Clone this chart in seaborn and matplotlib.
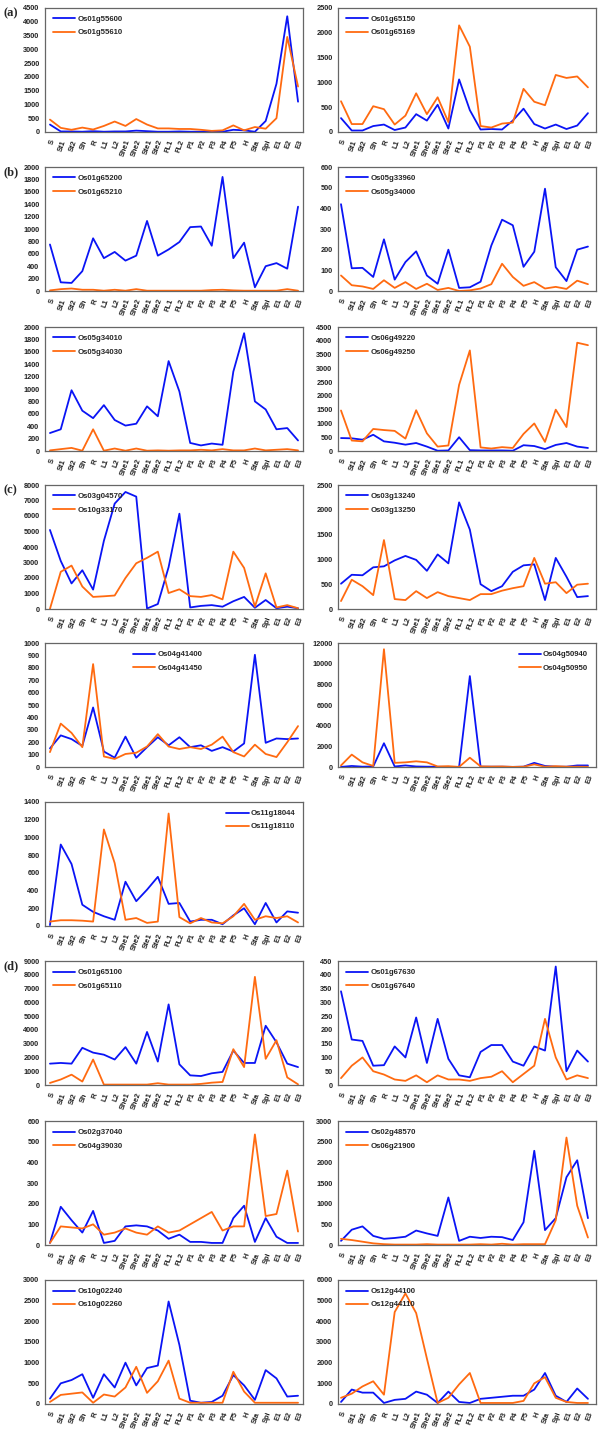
import matplotlib
matplotlib.use('Agg')
import matplotlib.pyplot as plt
import numpy as np
import pandas as pd
import seaborn as sns

tissues = ['S', 'St1', 'St2', 'Sh', 'R', 'L1', 'L2', 'She1', 'She2', 'Ste1', 'Ste2', 'FL1',
           'FL2', 'P1', 'P2', 'P3', 'P4', 'P5', 'H', 'Sta', 'Spi', 'E1', 'E2', 'E3']

# (a)
os01g55600 = [270, 20, 20, 10, 30, 10, 20, 20, 50, 30, 10, 10, 20, 10, 10, 10, 10, 80, 60, 10, 400, 1750, 4200, 1100]
os01g55610 = [450, 150, 80, 160, 90, 220, 380, 220, 470, 270, 130, 130, 110, 110, 80, 40, 60, 240, 60, 180, 120, 500, 3450, 1650]
os01g65150 = [280, 30, 30, 120, 150, 40, 90, 360, 230, 550, 70, 1060, 440, 50, 60, 50, 230, 470, 160, 70, 150, 60, 130, 380]
os01g65169 = [620, 160, 160, 520, 460, 150, 330, 780, 360, 700, 200, 2150, 1720, 120, 90, 170, 190, 870, 610, 540, 1150, 1090, 1120, 900]
# (b)
os01g65200 = [750, 140, 130, 320, 850, 530, 630, 490, 570, 1130, 570, 670, 790, 1030, 1040, 730, 1840, 530, 780, 60, 400, 450, 360, 1360]
os01g65210 = [10, 30, 40, 20, 20, 5, 20, 5, 30, 5, 5, 5, 5, 5, 5, 15, 20, 10, 5, 5, 5, 5, 30, 5]
os05g33960 = [420, 110, 112, 68, 250, 55, 140, 192, 75, 35, 200, 15, 18, 45, 220, 345, 318, 117, 190, 495, 115, 48, 200, 215]
os05g34000 = [75, 28, 22, 10, 52, 15, 43, 10, 35, 5, 15, 0, 3, 12, 33, 132, 68, 25, 43, 12, 20, 10, 50, 33]
os05g34010 = [290, 350, 980, 650, 530, 740, 500, 410, 440, 720, 560, 1450, 960, 130, 90, 120, 100, 1280, 1900, 800, 670, 350, 370, 170]
os05g34030 = [10, 30, 50, 5, 350, 5, 40, 5, 40, 5, 10, 5, 10, 10, 20, 10, 30, 10, 10, 40, 10, 20, 30, 10]
os06g49220 = [470, 460, 410, 590, 350, 300, 230, 290, 160, 10, 20, 500, 30, 20, 20, 20, 10, 210, 180, 70, 220, 290, 160, 110]
os06g49250 = [1470, 380, 350, 800, 760, 730, 450, 1480, 640, 160, 200, 2400, 3650, 130, 90, 140, 110, 620, 1000, 330, 1500, 870, 3930, 3840]
# (c)
os03g04570 = [5100, 3100, 1650, 2500, 1250, 4400, 6800, 7550, 7250, 30, 320, 2700, 6150, 100, 200, 250, 150, 500, 780, 80, 580, 50, 150, 50]
os10g33170 = [10, 2400, 2800, 1450, 780, 820, 870, 2000, 2950, 3300, 3700, 1030, 1270, 830, 780, 900, 620, 3700, 2650, 150, 2300, 100, 250, 50]
os03g13240 = [510, 690, 680, 840, 860, 980, 1070, 990, 770, 1100, 920, 2150, 1600, 500, 360, 460, 750, 880, 900, 180, 1030, 650, 240, 260]
os03g13250 = [160, 590, 460, 280, 1390, 200, 180, 360, 220, 340, 260, 220, 180, 300, 300, 370, 420, 460, 1030, 510, 540, 320, 490, 510]
os04g41400 = [150, 255, 225, 170, 480, 125, 75, 245, 75, 160, 240, 175, 240, 160, 175, 130, 160, 125, 190, 905, 195, 230, 225, 230]
os04g41450 = [120, 350, 275, 160, 830, 85, 65, 105, 115, 165, 265, 165, 145, 160, 145, 180, 245, 120, 85, 180, 105, 80, 200, 330]
os04g50940 = [10, 100, 30, 50, 2300, 50, 150, 50, 30, 20, 10, 10, 8800, 30, 30, 30, 10, 30, 400, 100, 30, 30, 150, 150]
os04g50950 = [150, 1200, 450, 100, 11400, 400, 450, 550, 450, 50, 80, 10, 900, 60, 40, 50, 10, 30, 250, 30, 80, 30, 30, 20]
os11g18044 = [10, 920, 700, 240, 160, 110, 70, 500, 280, 410, 555, 250, 260, 50, 70, 70, 20, 120, 200, 20, 260, 40, 165, 150]
os11g18110 = [50, 65, 65, 60, 50, 1090, 710, 70, 90, 35, 50, 1270, 100, 30, 90, 40, 30, 110, 250, 70, 110, 90, 110, 40]
# (d)
os01g65100 = [1550, 1600, 1550, 2700, 2350, 2200, 1850, 2750, 1550, 3850, 1700, 5850, 1500, 700, 650, 850, 950, 2500, 1600, 1600, 4300, 3100, 1550, 1300]
os01g65110 = [150, 400, 750, 250, 1850, 30, 30, 30, 30, 30, 130, 30, 30, 30, 80, 170, 220, 2600, 1300, 7850, 1900, 3250, 550, 50]
os01g67630 = [340, 165, 160, 70, 72, 140, 100, 245, 80, 240, 95, 35, 28, 120, 145, 145, 85, 70, 140, 125, 430, 50, 125, 85]
os01g67640 = [25, 70, 100, 50, 38, 20, 15, 35, 10, 35, 20, 20, 15, 25, 30, 50, 10, 40, 70, 240, 100, 20, 35, 25]
os02g37040 = [10, 185, 120, 60, 165, 10, 20, 90, 95, 90, 70, 30, 50, 15, 15, 10, 10, 130, 190, 15, 130, 40, 10, 10]
os04g39030 = [10, 90, 85, 80, 100, 50, 60, 80, 60, 50, 90, 60, 70, 100, 130, 160, 70, 90, 90, 535, 140, 150, 360, 65]
os02g48570 = [100, 370, 450, 220, 150, 170, 200, 350, 280, 220, 1150, 100, 200, 170, 200, 190, 120, 550, 2280, 360, 650, 1640, 2050, 650]
os06g21900 = [150, 120, 80, 40, 20, 10, 10, 10, 20, 10, 10, 10, 10, 20, 10, 30, 10, 20, 20, 20, 600, 2600, 950, 180]
os10g02240 = [130, 500, 580, 720, 150, 720, 400, 1000, 450, 870, 930, 2480, 1430, 80, 30, 50, 200, 700, 450, 100, 820, 620, 180, 200]
os10g02260 = [50, 220, 250, 280, 30, 230, 180, 400, 900, 270, 550, 1050, 130, 30, 30, 30, 30, 780, 300, 30, 30, 30, 30, 30]
os12g44100 = [100, 700, 550, 550, 50, 200, 250, 600, 450, 50, 600, 100, 50, 250, 300, 350, 400, 400, 700, 1500, 400, 100, 750, 250]
os12g44110 = [300, 500, 850, 1100, 450, 4450, 5350, 4400, 2200, 50, 300, 950, 1500, 50, 50, 50, 50, 150, 1000, 1300, 300, 100, 50, 50]

# row, col, blue, orange, y max, y step, legend place
panels = [
    (0, 0, ('Os01g55600', os01g55600), ('Os01g55610', os01g55610), 4500, 500, 'ul'),
    (0, 1, ('Os01g65150', os01g65150), ('Os01g65169', os01g65169), 2500, 500, 'ul'),
    (1, 0, ('Os01g65200', os01g65200), ('Os01g65210', os01g65210), 2000, 200, 'ul'),
    (1, 1, ('Os05g33960', os05g33960), ('Os05g34000', os05g34000), 600, 100, 'ul'),
    (2, 0, ('Os05g34010', os05g34010), ('Os05g34030', os05g34030), 2000, 200, 'ul'),
    (2, 1, ('Os06g49220', os06g49220), ('Os06g49250', os06g49250), 4500, 500, 'ul'),
    (3, 0, ('Os03g04570', os03g04570), ('Os10g33170', os10g33170), 8000, 1000, 'ul'),
    (3, 1, ('Os03g13240', os03g13240), ('Os03g13250', os03g13250), 2500, 500, 'ul'),
    (4, 0, ('Os04g41400', os04g41400), ('Os04g41450', os04g41450), 1000, 100, 'uc'),
    (4, 1, ('Os04g50940', os04g50940), ('Os04g50950', os04g50950), 12000, 2000, 'ur'),
    (5, 0, ('Os11g18044', os11g18044), ('Os11g18110', os11g18110), 1400, 200, 'ur'),
    (6, 0, ('Os01g65100', os01g65100), ('Os01g65110', os01g65110), 9000, 1000, 'ul'),
    (6, 1, ('Os01g67630', os01g67630), ('Os01g67640', os01g67640), 450, 50, 'ul'),
    (7, 0, ('Os02g37040', os02g37040), ('Os04g39030', os04g39030), 600, 100, 'ul'),
    (7, 1, ('Os02g48570', os02g48570), ('Os06g21900', os06g21900), 3000, 500, 'ul'),
    (8, 0, ('Os10g02240', os10g02240), ('Os10g02260', os10g02260), 3000, 500, 'ul'),
    (8, 1, ('Os12g44100', os12g44100), ('Os12g44110', os12g44110), 6000, 1000, 'ul'),
]

section_labels = [(0, '(a)'), (1, '(b)'), (3, '(c)'), (6, '(d)')]

sns.set_style('white')
plt.rcParams['font.family'] = ['Liberation Sans', 'DejaVu Sans']
plt.rcParams['font.weight'] = 'bold'

W, H = 600, 1430
row_top = [8, 167, 327, 485, 643, 802, 961, 1121, 1280]
row_h = 124
col_x = [(45, 303), (338, 596)]
col_xlim = [(-0.46, 23.46), (-0.28, 23.75)]

blue = '#0a14f5'
orange = '#ff6a10'

fig = plt.figure(figsize=(W / 100, H / 100), dpi=100)

for row, col, (bname, bvals), (oname, ovals), ymax, ystep, leg in panels:
    x0, x1 = col_x[col]
    top = row_top[row]
    ax = fig.add_axes([x0 / W, 1 - (top + row_h) / H, (x1 - x0) / W, row_h / H])
    df = pd.DataFrame({'pos': np.arange(len(tissues)), 'blue': bvals, 'orange': ovals})
    sns.lineplot(data=df, x='pos', y='blue', ax=ax, color=blue, lw=1.3, label=bname)
    sns.lineplot(data=df, x='pos', y='orange', ax=ax, color=orange, lw=1.3, label=oname)

    ax.set_xlim(*col_xlim[col])
    ax.set_ylim(0, ymax)
    ax.set_yticks(np.arange(0, ymax + 1, ystep))
    ax.set_xticks(np.arange(len(tissues)))
    ax.set_xticklabels(tissues, rotation=70, ha='right', rotation_mode='anchor')
    ax.tick_params(axis='both', labelsize=5.3, length=2, width=0.6, pad=2, colors='#222222')
    ax.tick_params(axis='x', pad=3)
    ax.set_xlabel('')
    ax.set_ylabel('')
    for s in ax.spines.values():
        s.set_color('#666666')
        s.set_linewidth(0.9)

    legend_kw = dict(frameon=False, prop={'size': 5.6, 'weight': 'bold'},
                     handlelength=2.9, handletextpad=0.25, labelspacing=0.75,
                     borderaxespad=0.6)
    if leg == 'ul':
        lg = ax.legend(loc='upper left', bbox_to_anchor=(0.0, 1.0), **legend_kw)
    elif leg == 'uc':
        lg = ax.legend(loc='upper left', bbox_to_anchor=(0.31, 1.0), **legend_kw)
    else:
        lg = ax.legend(loc='upper right', bbox_to_anchor=(1.0, 1.0), **legend_kw)
    for ln in lg.get_lines():
        ln.set_linewidth(1.3)

for row, text in section_labels:
    fig.text(4 / W, 1 - (row_top[row] + 5) / H, text, fontsize=9, fontweight='bold',
             family=['Liberation Serif', 'DejaVu Serif'], va='center', ha='left')

fig.savefig('out.png', dpi=100)
